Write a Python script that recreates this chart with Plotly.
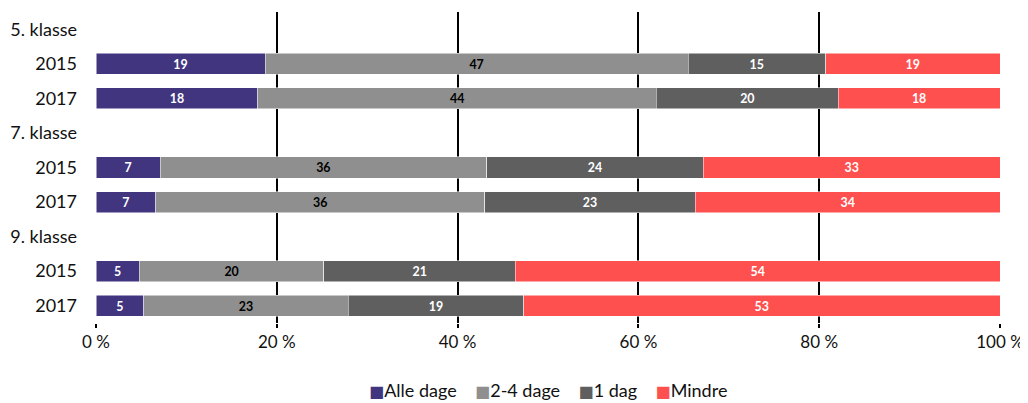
import plotly.graph_objects as go

row_labels = ["5. klasse", "2015", "2017", "7. klasse", "2015", "2017", "9. klasse", "2015", "2017"]
series_names = ["Alle dage", "2-4 dage", "1 dag", "Mindre"]
colors = ["#413580", "#8f8f8f", "#5f5f5f", "#ff5050"]
text_colors = ["white", "black", "white", "white"]
x_ticks = [0, 20, 40, 60, 80, 100]

alle_dage = [None, 18.7, 17.9, None, 7.1, 6.6, None, 4.8, 5.3]
to_fire_dage = [None, 46.8, 44.1, None, 36.1, 36.4, None, 20.4, 22.6]
en_dag = [None, 15.2, 20.1, None, 24.0, 23.3, None, 21.2, 19.4]
mindre = [None, 19.3, 17.9, None, 32.8, 33.7, None, 53.6, 52.7]

all_series = [alle_dage, to_fire_dage, en_dag, mindre]
ypos = list(range(len(row_labels)))

fig = go.Figure()
for name, vals, col, tc in zip(series_names, all_series, colors, text_colors):
    fig.add_trace(go.Bar(
        y=ypos, x=vals, name=name, orientation="h",
        marker=dict(color=col, line=dict(color="white", width=0.5)),
        text=[("" if v is None else f"{round(v):d}") for v in vals],
        textposition="inside", insidetextanchor="middle", textangle=0,
        textfont=dict(color=tc, size=14, family="Lato", weight="bold"),
        hoverinfo="skip", showlegend=False,
    ))

legend_html = "&nbsp;&nbsp;&nbsp;&nbsp;".join(
    f"<span style='color:{c}; font-family:DejaVu Sans; font-size:16px'>■</span>{n}"
    for n, c in zip(series_names, colors)
)
fig.add_annotation(text=legend_html, xref="paper", yref="paper", x=0.5, xanchor="center",
                   y=-0.215, yanchor="middle", showarrow=False,
                   font=dict(size=18, family="Lato", color="#111"))

fig.update_layout(
    barmode="stack", bargap=0.39,
    width=1020, height=395,
    margin=dict(l=88, r=28, t=4, b=80, autoexpand=False),
    paper_bgcolor="white", plot_bgcolor="white",
    font=dict(family="Lato", size=18, color="#111"),
    showlegend=False,
)
fig.update_xaxes(range=[0, 100], tickvals=x_ticks, ticktext=[f"{t} %" for t in x_ticks],
                 showgrid=True, gridcolor="black", gridwidth=2, zeroline=False,
                 ticks="outside", ticklen=4, tickwidth=2, tickcolor="black",
                 tickfont=dict(size=17), ticklabeloverflow="allow",
                 fixedrange=True, automargin=False)
fig.update_yaxes(tickvals=ypos, ticktext=row_labels, range=[8.5, -0.5],
                 showgrid=False, zeroline=False, ticks="", ticklabelstandoff=18,
                 tickfont=dict(size=18), fixedrange=True, automargin=False)

fig.write_html("out.html")
